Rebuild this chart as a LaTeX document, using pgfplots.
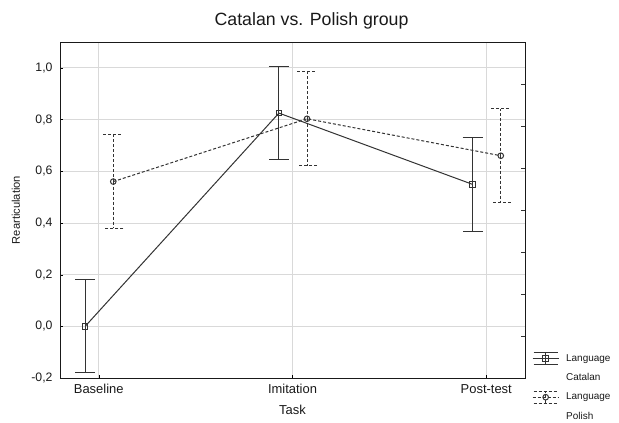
\documentclass[border=0pt]{standalone}
\usepackage{pgfplots}
\pgfplotsset{compat=1.18}
\usepackage{fontspec}
\setmainfont{Liberation Sans}
\definecolor{linegray}{HTML}{333333}
\definecolor{gridgray}{HTML}{D9D9D9}
\pgfplotstableread{
x y ep em
-0.07 0.000 0.180 0.180
0.93 0.825 0.182 0.180
1.93 0.549 0.183 0.181
}\catalan
\pgfplotstableread{
x y ep em
0.075 0.560 0.181 0.181
1.075 0.803 0.183 0.181
2.075 0.660 0.182 0.181
}\polish
\begin{document}
\begin{tikzpicture}
\path (-60bp,-41bp) rectangle (559bp,378bp);
\begin{axis}[
  at={(0,0)}, anchor=south west,
  scale only axis, width=465bp, height=336bp,
  xmin=-0.2, xmax=2.2, ymin=-0.2, ymax=1.1,
  xtick={0,1,2}, xticklabels={Baseline,Imitation,Post-test},
  ytick={-0.2,0,0.2,0.4,0.6,0.8,1.0},
  /pgf/number format/assume math mode=true,
  yticklabel style={/pgf/number format/fixed, /pgf/number format/fixed zerofill, /pgf/number format/precision=1, /pgf/number format/use comma, xshift=-4bp, font=\fontsize{12.3}{14}\selectfont},
  xtick pos=bottom, ytick pos=left, tick align=inside, major tick length=3bp,
  tick style={draw=black},
  grid=major, grid style={draw=gridgray, line width=0.8bp},
  axis line style={draw=black!90, line width=0.9bp},
  ticklabel style={text=black!90},
  xticklabel style={yshift=-3bp, font=\fontsize{13}{15}\selectfont},
  xlabel={Task}, ylabel={Rearticulation},
  xlabel style={at={(axis description cs:0.5,-0.0952)}, anchor=center, font=\fontsize{13}{15}\selectfont, text=black!90},
  ylabel style={at={(axis description cs:-0.0946,0.5)}, anchor=center, font=\fontsize{11.2}{13}\selectfont, text=black!90},
  title={Catalan vs. Polish group},
  title style={at={(axis description cs:0.541,1.046)}, anchor=center, font=\fontsize{17.8}{20}\selectfont, text=black!90},
  legend style={at={(axis description cs:1.015,0.078)}, anchor=north west, draw=none, fill=none, inner sep=0pt,
    font=\fontsize{10}{12}\selectfont, text=black!90, row sep=6.5bp, column sep=5bp, cells={anchor=west}},
  legend image code/.code={
    \draw[#1,mark=none] (1bp,6bp) -- (25bp,6bp);
    \draw[#1,mark=none] (1bp,-6bp) -- (25bp,-6bp);
    \draw[#1,mark=none] (13bp,-6bp) -- (13bp,6bp);
    \draw[mark repeat=2,mark phase=2,#1] plot coordinates {(0bp,0bp) (13bp,0bp) (26bp,0bp)};
  },
]
\addplot[color=linegray, line width=1bp, mark=square, mark size=2.8bp, mark options={solid, line width=1bp},
  error bars/.cd, y dir=both, y explicit,
  error bar style={solid, line width=1bp, color=linegray},
  error mark options={rotate=90, mark size=10bp, solid, line width=1bp, color=linegray}]
  table[x=x, y=y, y error plus=ep, y error minus=em] {\catalan};
\addlegendentry{Language}
\addlegendimage{empty legend}
\addlegendentry{Catalan}
\addplot[color=linegray, line width=1bp, dash pattern=on 3bp off 2bp, mark=o, mark size=2.8bp, mark options={solid, line width=1bp},
  error bars/.cd, y dir=both, y explicit,
  error bar style={dash pattern=on 3bp off 2bp, line width=1bp, color=linegray},
  error mark options={rotate=90, mark size=10bp, dash pattern=on 3bp off 2bp, line width=1bp, color=linegray}]
  table[x=x, y=y, y error plus=ep, y error minus=em] {\polish};
\addlegendentry{Language}
\addlegendimage{empty legend}
\addlegendentry{Polish}
\end{axis}
\begin{axis}[
  at={(0,0)}, anchor=south west,
  scale only axis, width=465bp, height=336bp,
  xmin=0, xmax=1, ymin=0, ymax=8,
  xtick=\empty, ytick={1,2,3,4,5,6,7}, yticklabels={},
  ytick pos=right, tick align=inside, major tick length=4bp,
  tick style={draw=black!80, line width=0.8bp},
  axis line style={draw=none},
]
\end{axis}
\end{tikzpicture}
\end{document}
